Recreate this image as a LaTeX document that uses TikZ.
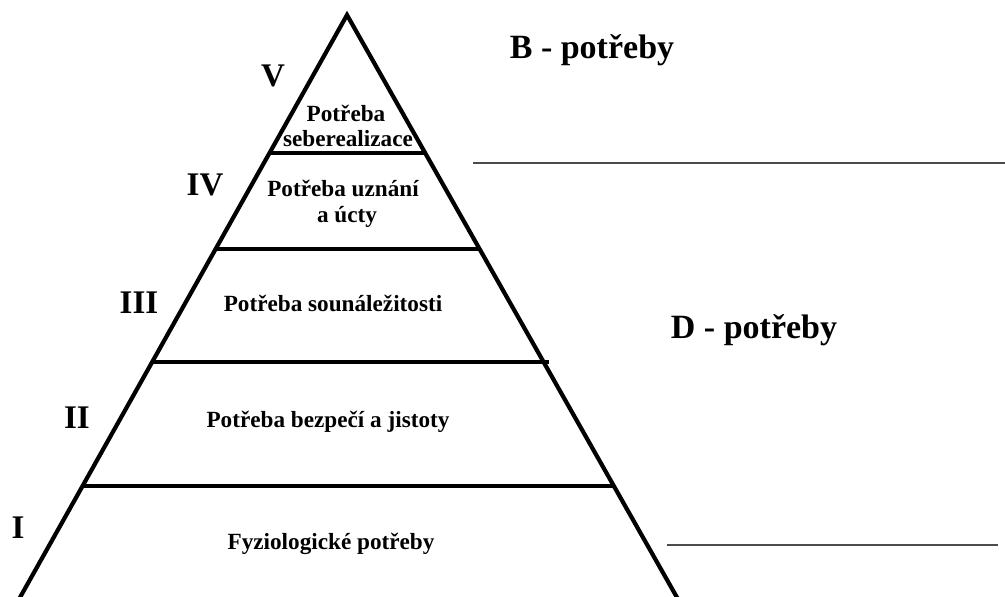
\documentclass[tikz,border=0pt]{standalone}
\usepackage{fontspec}
\setmainfont{Liberation Serif}
\begin{document}
\begin{tikzpicture}[x=1pt,y=-1pt,
  edge/.style={line width=4.2pt,line join=miter},
  level/.style={line width=4.5pt},
  sep/.style={line width=2.3pt,black!70},
  lbl/.style={font=\bfseries\fontsize{23.2}{26}\selectfont,align=center,anchor=base,inner sep=0pt},
  num/.style={font=\bfseries\fontsize{33}{36}\selectfont,anchor=base,inner sep=0pt},
  big/.style={font=\bfseries\fontsize{34}{38}\selectfont,anchor=base,inner sep=0pt}]
\useasboundingbox (0,0) rectangle (1005,597);
% pyramid outline
\coordinate (apex) at (347,15);
\coordinate (bl) at (18,601);
\coordinate (br) at (679,601);
\draw[edge] (bl) -- (apex) -- (br);
% level lines
\coordinate (l1a) at (271,153); \coordinate (l1b) at (424,153);
\coordinate (l2a) at (214,249); \coordinate (l2b) at (481,249);
\coordinate (l3a) at (151,362); \coordinate (l3b) at (549,362);
\coordinate (l4a) at (81,486);  \coordinate (l4b) at (613,486);
\draw[level] (l1a) -- (l1b);
\draw[level] (l2a) -- (l2b);
\draw[level] (l3a) -- (l3b);
\draw[level] (l4a) -- (l4b);
% separator lines (gray)
\coordinate (s1a) at (473,163); \coordinate (s1b) at (1005,163);
\coordinate (s2a) at (667,545); \coordinate (s2b) at (998,545);
\draw[sep] (s1a) -- (s1b);
\draw[sep] (s2a) -- (s2b);
% level labels
\node[lbl] (t5a) at (346,121) {Potřeba};
\node[lbl] (t5b) at (348,146) {seberealizace};
\node[lbl] (t4a) at (343,196) {Potřeba uznání};
\node[lbl] (t4b) at (347,222) {a úcty};
\node[lbl] (t3) at (333,311) {Potřeba sounáležitosti};
\node[lbl] (t2) at (328,427) {Potřeba bezpečí a jistoty};
\node[lbl] (t1) at (331,549) {Fyziologické potřeby};
% roman numerals
\node[num] (n5) at (273,86) {V};
\node[num] (n4) at (205,195) {IV};
\node[num] (n3) at (139,313) {III};
\node[num] (n2) at (77,428) {II};
\node[num] (n1) at (18,538) {I};
% group labels
\node[big] (B) at (592,58) {B - potřeby};
\node[big] (D) at (754,338) {D - potřeby};
\end{tikzpicture}
\end{document}
